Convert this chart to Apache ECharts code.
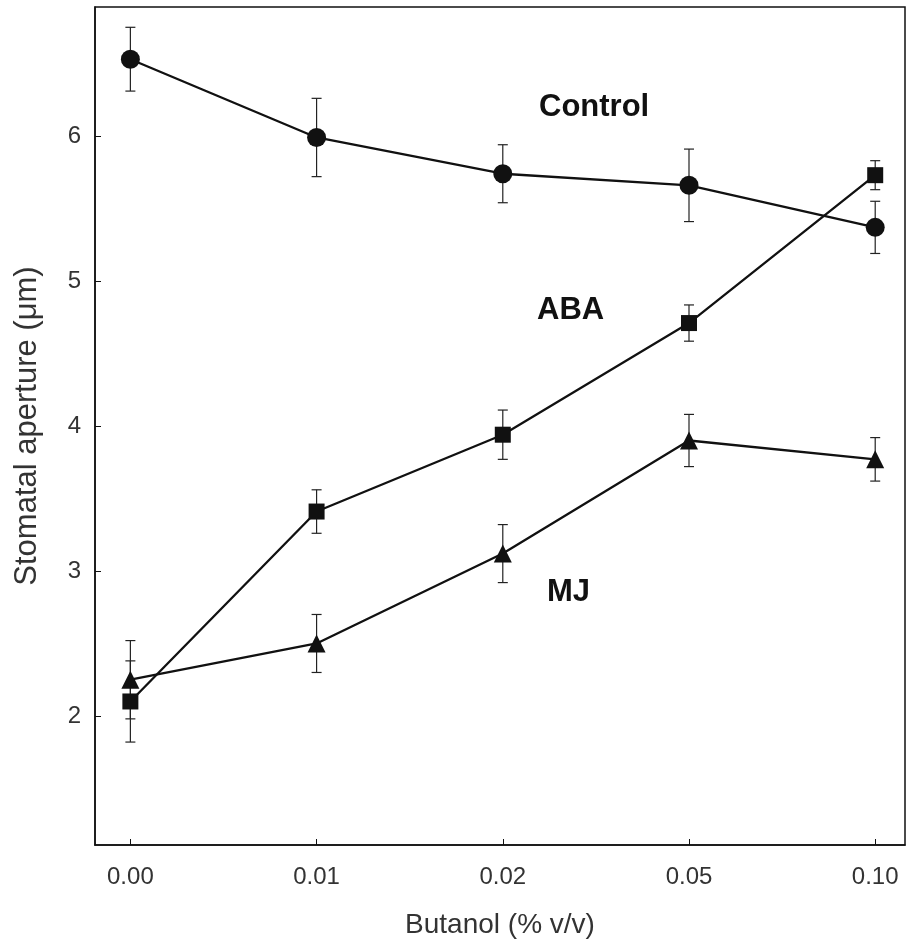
<!DOCTYPE html>
<html>
<head>
<meta charset="utf-8">
<script src="https://cdn.jsdelivr.net/npm/echarts@6/dist/echarts.min.js"></script>
<style>
html,body{margin:0;padding:0;background:#fff;}
#chart{width:908px;height:951px;}
</style>
</head>
<body>
<div id="chart"></div>
<script>
// ---- data ----
var categories = ['0.00', '0.01', '0.02', '0.05', '0.10'];
var controlMean = [6.53, 5.99, 5.74, 5.66, 5.37];
var controlErr  = [0.22, 0.27, 0.20, 0.25, 0.18];
var abaMean = [2.10, 3.41, 3.94, 4.71, 5.73];
var abaErr  = [0.28, 0.15, 0.17, 0.125, 0.10];
var mjMean = [2.25, 2.50, 3.12, 3.90, 3.77];
var mjErr  = [0.27, 0.20, 0.20, 0.18, 0.15];
var yTicks = [2, 3, 4, 5, 6];
var seriesNames = ['Control', 'ABA', 'MJ'];

var FONT = '"Liberation Sans", Arial, Helvetica, sans-serif';

function pts(arr) { return arr.map(function (v, i) { return [i, v]; }); }
function errData(mean, err) { return mean.map(function (v, i) { return [i, v - err[i], v + err[i]]; }); }

function errSeries(mean, err) {
  return {
    type: 'custom',
    data: errData(mean, err),
    z: 1,
    silent: true,
    renderItem: function (params, api) {
      var x = api.value(0);
      var lo = api.coord([x, api.value(1)]);
      var hi = api.coord([x, api.value(2)]);
      var w = 5;
      var st = { stroke: '#222', lineWidth: 1.2 };
      return {
        type: 'group',
        children: [
          { type: 'line', shape: { x1: lo[0], y1: lo[1], x2: hi[0], y2: hi[1] }, style: st },
          { type: 'line', shape: { x1: lo[0] - w, y1: lo[1], x2: lo[0] + w, y2: lo[1] }, style: st },
          { type: 'line', shape: { x1: hi[0] - w, y1: hi[1], x2: hi[0] + w, y2: hi[1] }, style: st }
        ]
      };
    }
  };
}

function lineSeries(name, mean, symbol, size) {
  return {
    name: name,
    type: 'line',
    data: pts(mean),
    symbol: symbol,
    symbolSize: size,
    showAllSymbol: true,
    z: 3,
    lineStyle: { color: '#111', width: 2.3 },
    itemStyle: { color: '#111', borderWidth: 0 },
    emphasis: { disabled: true },
    animation: false
  };
}

var chart = echarts.init(document.getElementById('chart'), null, { renderer: 'canvas' });
chart.setOption({
  animation: false,
  backgroundColor: '#fff',
  grid: {
    left: 95, right: 3, top: 7, bottom: 106,
    show: true, borderColor: '#111', borderWidth: 1.5, backgroundColor: 'transparent'
  },
  xAxis: {
    type: 'value',
    min: -0.19, max: 4.16,
    name: 'Butanol (% v/v)',
    nameLocation: 'middle',
    nameGap: 66,
    nameTextStyle: { fontFamily: FONT, fontSize: 28, color: '#333' },
    splitLine: { show: false },
    axisLine: { show: true, onZero: false, lineStyle: { color: '#111', width: 1.5 } },
    axisTick: { show: true, inside: true, length: 6, customValues: [0, 1, 2, 3, 4], lineStyle: { color: '#111' } },
    axisLabel: {
      customValues: [0, 1, 2, 3, 4],
      margin: 20,
      fontFamily: FONT, fontSize: 24, color: '#333',
      formatter: function (v) { return categories[Math.round(v)]; }
    }
  },
  yAxis: {
    type: 'value',
    min: 1.11, max: 6.89,
    name: 'Stomatal aperture (μm)',
    nameLocation: 'middle',
    nameGap: 52,
    nameTextStyle: { fontFamily: FONT, fontSize: 31, color: '#333' },
    splitLine: { show: false },
    axisLine: { show: true, onZero: false, lineStyle: { color: '#111', width: 1.5 } },
    axisTick: { show: true, inside: true, length: 6, customValues: yTicks, lineStyle: { color: '#111' } },
    axisLabel: {
      customValues: yTicks,
      margin: 14,
      fontFamily: FONT, fontSize: 24, color: '#333'
    }
  },
  series: [
    errSeries(controlMean, controlErr),
    errSeries(abaMean, abaErr),
    errSeries(mjMean, mjErr),
    lineSeries(seriesNames[0], controlMean, 'circle', 19),
    lineSeries(seriesNames[1], abaMean, 'rect', 16),
    lineSeries(seriesNames[2], mjMean, 'triangle', 18)
  ],
  graphic: [
    { type: 'text', left: 539, top: 92, style: { text: seriesNames[0], font: 'bold 31px ' + FONT, fill: '#111' } },
    { type: 'text', left: 537, top: 295, style: { text: seriesNames[1], font: 'bold 31px ' + FONT, fill: '#111' } },
    { type: 'text', left: 547, top: 577, style: { text: seriesNames[2], font: 'bold 31px ' + FONT, fill: '#111' } }
  ]
});
</script>
</body>
</html>
